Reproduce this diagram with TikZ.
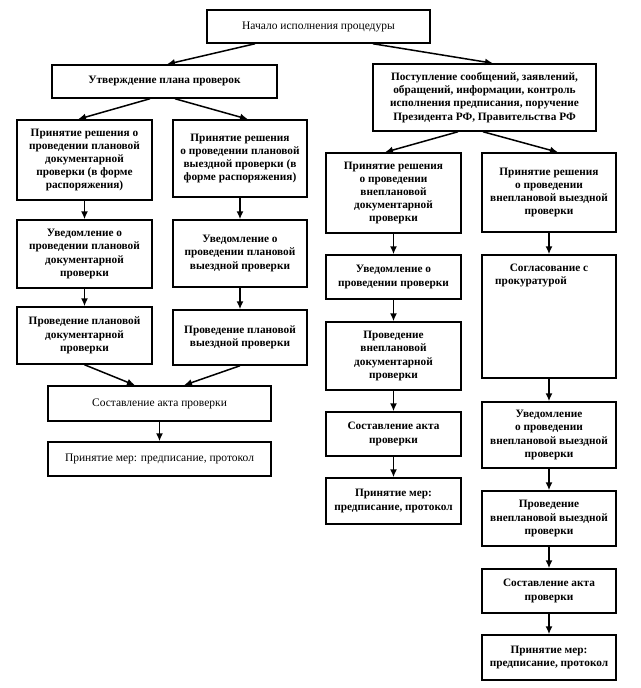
\documentclass[tikz,border=0pt]{standalone}
\usepackage{fontspec}
\setmainfont{Liberation Serif}
\usetikzlibrary{arrows.meta}
\begin{document}
\begin{tikzpicture}[x=1pt,y=-1pt,
  box/.style={draw=black,line width=1.5pt,rectangle,align=center,inner sep=1pt,
    font=\fontsize{11.3}{13.2}\selectfont\bfseries},
  plainbox/.style={box,font=\fontsize{11.5}{13.2}\selectfont},
  arr/.style={line width=1.5pt,-{Latex[length=8pt,width=7pt]}}]
\useasboundingbox (0,0) rectangle (640,688);
% top
\node[plainbox,minimum width=223,minimum height=33] (T) at (318.5,26.5) {Начало исполнения процедуры};
\node[box,minimum width=225,minimum height=33] (L0) at (164.5,81.5) {Утверждение плана проверок};
\node[box,minimum width=223,minimum height=67] (R0) at (484.5,97.5) {Поступление сообщений, заявлений,\\обращений, информации, контроль\\исполнения предписания, поручение\\Президента РФ, Правительства РФ};
% left column
\node[box,minimum width=135,minimum height=80] (A1) at (84.5,160) {Принятие решения о\\проведении плановой\\документарной\\проверки (в форме\\распоряжения)};
\node[box,minimum width=134,minimum height=77] (B1) at (240,158.5) {Принятие решения\\о проведении плановой\\выездной проверки (в\\форме распоряжения)};
\node[box,minimum width=135,minimum height=68] (A2) at (84.5,254) {Уведомление о\\проведении плановой\\документарной\\проверки};
\node[box,minimum width=134,minimum height=67] (B2) at (240,253.5) {Уведомление о\\проведении плановой\\выездной проверки};
\node[box,minimum width=135,minimum height=57] (A3) at (84.5,335.5) {Проведение плановой\\документарной\\проверки};
\node[box,minimum width=134,minimum height=55] (B3) at (240,337.5) {Проведение плановой\\выездной проверки};
\node[plainbox,minimum width=223,minimum height=35] (L4) at (159.5,403.5) {Составление акта проверки};
\node[plainbox,minimum width=223,minimum height=34] (L5) at (159.5,459) {Принятие мер: предписание, протокол};
% right columns
\node[box,minimum width=135,minimum height=80] (C1) at (393.5,193) {Принятие решения\\о проведении\\внеплановой\\документарной\\проверки};
\node[box,minimum width=134,minimum height=79] (D1) at (549,192.5) {Принятие решения\\о проведении\\внеплановой выездной\\проверки};
\node[box,minimum width=135,minimum height=44] (C2) at (393.5,277) {Уведомление о\\проведении проверки};
\node[box,minimum width=134,minimum height=123] (D2) at (549,316.5) {};
\node[box,anchor=north,draw=none] (D2t) at ([yshift=-8pt]D2.north) {Согласование с\\прокуратурой\hspace*{36pt}};
\node[box,minimum width=135,minimum height=68] (C3) at (393.5,356) {Проведение\\внеплановой\\документарной\\проверки};
\node[box,minimum width=135,minimum height=44] (C4) at (393.5,434) {Составление акта\\проверки};
\node[box,minimum width=135,minimum height=46] (C5) at (393.5,501) {Принятие мер:\\предписание, протокол};
\node[box,minimum width=134,minimum height=66] (D3) at (549,435) {Уведомление\\о проведении\\внеплановой выездной\\проверки};
\node[box,minimum width=134,minimum height=55] (D4) at (549,518.5) {Проведение\\внеплановой выездной\\проверки};
\node[box,minimum width=134,minimum height=44] (D5) at (549,591) {Составление акта\\проверки};
\node[box,minimum width=134,minimum height=45] (D6) at (549,657.5) {Принятие мер:\\предписание, протокол};
% arrows
\draw[arr] ([xshift=-63.5pt]T.south) -- ([xshift=2.5pt]L0.north);
\draw[arr] ([xshift=54.5pt]T.south) -- ([xshift=8.5pt]R0.north);
\draw[arr] ([xshift=-14.5pt]L0.south) -- ([xshift=-6.5pt]A1.north);
\draw[arr] ([xshift=10.5pt]L0.south) -- ([xshift=8pt]B1.north);
\draw[arr] ([xshift=-26.5pt]R0.south) -- ([xshift=-8.5pt]C1.north);
\draw[arr] ([xshift=-1.5pt]R0.south) -- ([xshift=9pt]D1.north);
\draw[arr] (A1) -- (A2);
\draw[arr] (A2) -- (A3);
\draw[arr] (B1) -- (B2);
\draw[arr] (B2) -- (B3);
\draw[arr] (A3.south) -- ([xshift=-24.5pt]L4.north);
\draw[arr] (B3.south) -- ([xshift=24.5pt]L4.north);
\draw[arr] (L4) -- (L5);
\draw[arr] (C1) -- (C2);
\draw[arr] (C2) -- (C3);
\draw[arr] (C3) -- (C4);
\draw[arr] (C4) -- (C5);
\draw[arr] (D1) -- (D2);
\draw[arr] (D2) -- (D3);
\draw[arr] (D3) -- (D4);
\draw[arr] (D4) -- (D5);
\draw[arr] (D5) -- (D6);
\end{tikzpicture}
\end{document}
